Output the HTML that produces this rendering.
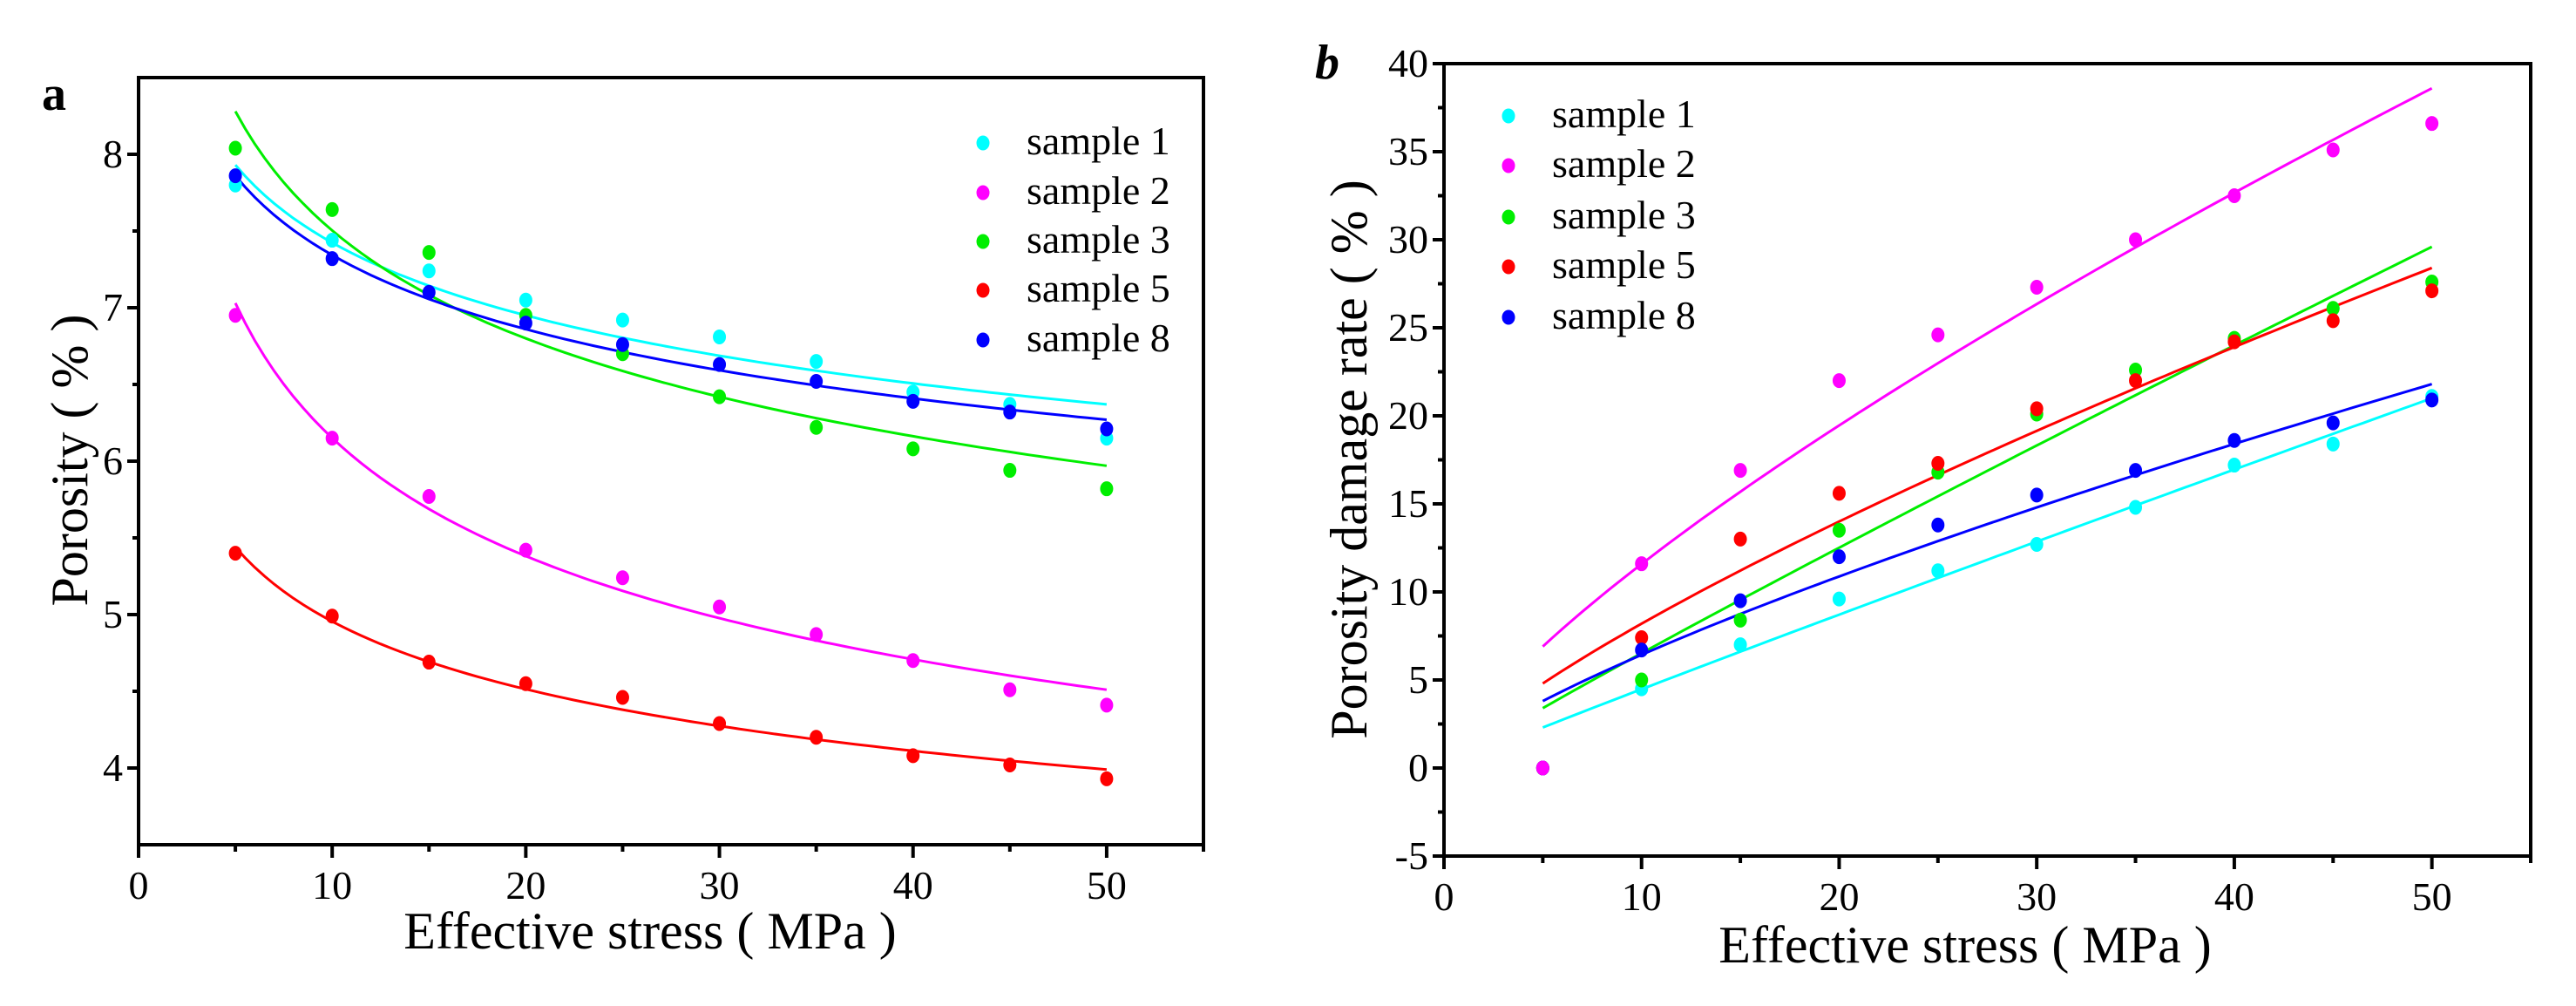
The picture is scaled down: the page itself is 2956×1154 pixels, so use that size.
<!DOCTYPE html>
<html><head><meta charset="utf-8">
<style>
html,body{margin:0;padding:0;background:#fff;}
svg, svg text{font-family:"Liberation Serif","DejaVu Serif",serif;}
</style></head>
<body>
<svg id="chart" width="2956" height="1149" viewBox="0 0 2956 1149" xmlns="http://www.w3.org/2000/svg" font-family="Liberation Serif, serif">
<rect width="2956" height="1149" fill="#fff"/>
<g id="pa"></g>
<g id="pb"></g>
</svg>
<script>
const NS='http://www.w3.org/2000/svg';
const stress=[5,10,15,20,25,30,35,40,45,50];
const sampleNames=['sample 1','sample 2','sample 3','sample 5','sample 8'];
const sampleColors=['#00ffff','#ff00ff','#00ee00','#ff0000','#0000ff'];
// Panel a: porosity (%)
const aS1=[7.80,7.44,7.24,7.05,6.92,6.81,6.65,6.45,6.37,6.15];
const aS2=[6.95,6.15,5.77,5.42,5.24,5.05,4.87,4.70,4.51,4.41];
const aS3=[8.04,7.64,7.36,6.95,6.70,6.42,6.22,6.08,5.94,5.82];
const aS5=[5.40,4.99,4.69,4.55,4.46,4.29,4.20,4.08,4.02,3.93];
const aS8=[7.86,7.32,7.10,6.90,6.76,6.63,6.52,6.39,6.32,6.21];
// fitted curve values at stress 5 and 50 (power-law fit)
const aFitStart=[7.93,7.03,8.28,5.44,7.86];
const aFitEnd=[6.37,4.51,5.97,3.99,6.27];
const aYTicks=[4,5,6,7,8];
const xTicks=[0,10,20,30,40,50];
// Panel b: porosity damage rate (%)
const bS1=[0,4.5,7.0,9.6,11.2,12.7,14.8,17.2,18.4,21.1];
const bS2=[0,11.6,16.9,22.0,24.6,27.3,30.0,32.5,35.1,36.6];
const bS3=[0,5.0,8.4,13.5,16.8,20.1,22.6,24.4,26.1,27.6];
const bS5=[0,7.4,13.0,15.6,17.3,20.4,22.0,24.2,25.4,27.1];
const bS8=[0,6.7,9.5,12.0,13.8,15.5,16.9,18.6,19.6,20.9];
const bFitStart=[2.3,6.9,3.4,4.8,3.8];
const bFitEnd=[21.0,38.6,29.6,28.4,21.8];
const bYTicks=[-5,0,5,10,15,20,25,30,35,40];

const FONT='"Liberation Serif", "DejaVu Serif", serif';
function el(parent,tag,attrs,text){const e=document.createElementNS(NS,tag);for(const k in attrs)e.setAttribute(k,attrs[k]);if(text!==undefined){e.textContent=text;e.setAttribute('font-family',FONT);}parent.appendChild(e);return e;}

function panel(g,cfg){
  const X=v=>cfg.x0+(v-cfg.xmin)/(cfg.xmax-cfg.xmin)*(cfg.x1-cfg.x0);
  const Y=v=>cfg.y1-(v-cfg.ymin)/(cfg.ymax-cfg.ymin)*(cfg.y1-cfg.y0);
  const frame=el(g,'rect',{x:cfg.x0,y:cfg.y0,width:cfg.x1-cfg.x0,height:cfg.y1-cfg.y0,fill:'none',stroke:'#000','stroke-width':4});
  
  
  xTicks.forEach(t=>{
    const l=el(g,'line',{x1:X(t),x2:X(t),y1:cfg.y1,y2:cfg.y1+15,stroke:'#000','stroke-width':4});
    
    
    const tx=el(g,'text',{x:X(t),y:cfg.y1+62,'font-size':46,'text-anchor':'middle'},String(t));
    
    
    const m=t+5;
    if(m<=cfg.xmax){const ml=el(g,'line',{x1:X(m),x2:X(m),y1:cfg.y1,y2:cfg.y1+8,stroke:'#000','stroke-width':4});
      
      }
  });
  cfg.yTicks.forEach(t=>{
    const l=el(g,'line',{x1:cfg.x0-13,x2:cfg.x0,y1:Y(t),y2:Y(t),stroke:'#000','stroke-width':4});
    
    
    const tx=el(g,'text',{x:cfg.x0-18,y:Y(t)+15,'font-size':46,'text-anchor':'end'},String(t));
    
    
    const m=t+cfg.minor;
    if(m<cfg.ymax){const ml=el(g,'line',{x1:cfg.x0-7,x2:cfg.x0,y1:Y(m),y2:Y(m),stroke:'#000','stroke-width':4});
      
      }
  });
  cfg.fitStart.forEach((s,i)=>{
    const e=cfg.fitEnd[i];const b=Math.log(e/s)/Math.log(10);
    let d='';
    for(let k=0;k<=90;k++){const xv=5+45*k/90;const yv=s*Math.pow(xv/5,b);d+=(k?'L':'M')+X(xv).toFixed(1)+','+Y(yv).toFixed(1);}
    const p=el(g,'path',{d:d,fill:'none',stroke:sampleColors[i],'stroke-width':3});
    
    
  });
  cfg.order.forEach(i=>{
    cfg.series[i].forEach((v,j)=>{
      const c=el(g,'ellipse',{cx:X(stress[j]),cy:Y(v),rx:7.5,ry:8.5,fill:sampleColors[i]});
      
      
    });
  });
  sampleNames.forEach((n,i)=>{
    const ly=cfg.legY[i];
    const m=el(g,'ellipse',{cx:cfg.legX,cy:ly,rx:7.5,ry:8.5,fill:sampleColors[i]});
    
    
    const t=el(g,'text',{x:cfg.legX+50,y:ly+13,'font-size':46},n);
    
    
  });
  const xl=el(g,'text',{x:cfg.xlabX,y:cfg.xlabY,'font-size':60,'text-anchor':'middle'},'Effective stress ( MPa )');
  
  
  const yl=el(g,'text',{x:0,y:0,'font-size':60,'text-anchor':'middle',transform:`translate(${cfg.ylabX},${cfg.ylabY}) rotate(-90)`},cfg.ylab);
  
  
  const pl=el(g,'text',{x:cfg.pX,y:cfg.pY,'font-size':56,'font-weight':'bold','font-style':cfg.italic?'italic':'normal','text-anchor':'middle'},cfg.plabel);
  
  
}

panel(document.getElementById('pa'),{x0:159,x1:1381,y0:89,y1:969,xmin:0,xmax:55,ymin:3.5,ymax:8.5,
  yTicks:aYTicks,minor:0.5,series:[aS1,aS2,aS3,aS5,aS8],order:[0,1,2,3,4],
  fitStart:aFitStart,fitEnd:aFitEnd,legX:1128,legY:[164,221,277,333,390],
  xlabX:746,xlabY:1088,ylabX:100,ylabY:528,ylab:'Porosity ( % )',pX:62,pY:126,plabel:'a',italic:false});
panel(document.getElementById('pb'),{x0:1657,x1:2904,y0:73,y1:982,xmin:0,xmax:55,ymin:-5,ymax:40,
  yTicks:bYTicks,minor:2.5,series:[bS1,bS2,bS3,bS5,bS8],order:[0,2,3,4,1],
  fitStart:bFitStart,fitEnd:bFitEnd,legX:1731,legY:[133,190,249,306,364],
  xlabX:2255,xlabY:1104,ylabX:1568,ylabY:527,ylab:'Porosity damage rate ( % )',pX:1523,pY:90,plabel:'b',italic:true});
</script>
</body></html>
